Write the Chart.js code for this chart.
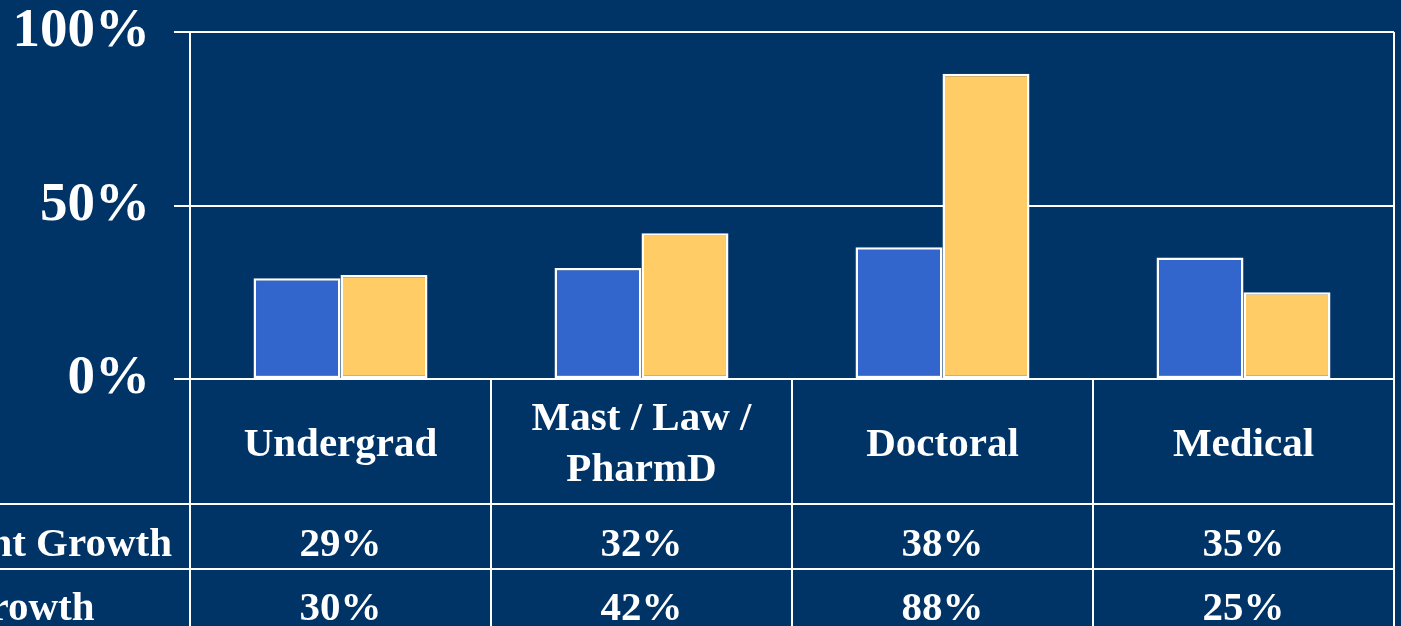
<!DOCTYPE html>
<html>
<head>
<meta charset="utf-8">
<script src="https://cdn.jsdelivr.net/npm/chart.js@4.4.1/dist/chart.umd.min.js"></script>
<style>
  html, body { margin: 0; padding: 0; background: #003366; }
  #wrap { width: 1401px; height: 626px; position: relative; }
</style>
</head>
<body>
<div id="wrap"><canvas id="growthChart"></canvas></div>
<script>
// données
var categories = [['Undergrad'], ['Mast / Law /', 'PharmD'], ['Doctoral'], ['Medical']];
var seriesNames = ['Enrollment Growth', 'Degree Growth'];
var enrollmentGrowth = [29, 32, 38, 35];
var degreeGrowth = [30, 42, 88, 25];
var yTicks = [0, 50, 100];

var navy = '#003366';
var white = '#ffffff';
var fontFamily = "'Liberation Serif', 'Times New Roman', serif";

// tableau de données sous le graphique
var tablePlugin = {
    id: 'dataTable',
    afterDraw: function(chart) {
        var ctx = chart.ctx;
        var area = chart.chartArea;
        var xs = chart.scales.x;
        var H = chart.height;
        var headerH = 125, rowH = 65;
        var colW = (area.right - area.left) / categories.length;

        ctx.save();
        ctx.strokeStyle = white;
        ctx.lineWidth = 2;

        // bord droit de la zone de tracé
        ctx.beginPath();
        ctx.moveTo(area.right, area.top);
        ctx.lineTo(area.right, area.bottom);
        ctx.stroke();

        // lignes horizontales du tableau
        [area.bottom + headerH, area.bottom + headerH + rowH].forEach(function(y) {
            ctx.beginPath();
            ctx.moveTo(0, y);
            ctx.lineTo(area.right, y);
            ctx.stroke();
        });

        // lignes verticales
        for (var i = 0; i <= categories.length; i++) {
            var vx = area.left + i * colW;
            ctx.beginPath();
            ctx.moveTo(vx, area.bottom);
            ctx.lineTo(vx, H);
            ctx.stroke();
        }

        ctx.fillStyle = white;
        ctx.font = 'bold 41px ' + fontFamily;
        ctx.textAlign = 'center';
        ctx.textBaseline = 'middle';

        // en-têtes
        categories.forEach(function(lines, i) {
            var cx = xs.getPixelForValue(i);
            var cy = area.bottom + 66;
            var lh = 51;
            var y0 = cy - (lines.length - 1) * lh / 2;
            lines.forEach(function(t, j) {
                ctx.fillText(t, cx, y0 + j * lh);
            });
        });

        // valeurs
        var rows = [enrollmentGrowth, degreeGrowth];
        var rowY = [area.bottom + headerH + 41, area.bottom + headerH + rowH + 40];
        rows.forEach(function(vals, r) {
            vals.forEach(function(v, i) {
                ctx.fillText(v + '%', xs.getPixelForValue(i), rowY[r]);
            });
        });

        // libellés des lignes (coupés à gauche)
        ctx.textAlign = 'left';
        var startX = 172 - ctx.measureText(seriesNames[0]).width;
        seriesNames.forEach(function(name, r) {
            ctx.fillText(name, startX, rowY[r]);
        });
        ctx.restore();
    }
};

var ctx = document.getElementById('growthChart').getContext('2d');
var growthChart = new Chart(ctx, {
    type: 'bar',
    data: {
        labels: categories.map(function(c) { return c.join(' '); }),
        datasets: [{
            label: seriesNames[0],
            data: enrollmentGrowth,
            backgroundColor: '#3366CC',
            borderColor: white,
            borderWidth: 2.5,
            borderSkipped: false
        }, {
            label: seriesNames[1],
            data: degreeGrowth,
            backgroundColor: '#FFCC66',
            borderColor: white,
            borderWidth: 2.5,
            borderSkipped: false
        }]
    },
    options: {
        responsive: true,
        maintainAspectRatio: false,
        animation: false,
        categoryPercentage: 0.578,
        barPercentage: 1,
        layout: { padding: { left: 0, top: 32, right: 7, bottom: 247 } },
        plugins: {
            legend: { display: false },
            tooltip: { enabled: false }
        },
        scales: {
            x: {
                display: false,
                offset: true
            },
            y: {
                min: yTicks[0],
                max: yTicks[yTicks.length - 1],
                afterFit: function(scale) {
                    scale.width = 190;
                    scale.paddingTop = 0;
                    scale.paddingBottom = 0;
                },
                afterBuildTicks: function(scale) {
                    scale.ticks = yTicks.map(function(v) { return { value: v }; });
                },
                border: { display: true, color: white, width: 2 },
                grid: { color: white, lineWidth: 2, tickLength: 16, drawTicks: true },
                ticks: {
                    color: white,
                    padding: 24,
                    font: { family: fontFamily, size: 55, weight: 'bold' },
                    callback: function(value) { return value + '%'; }
                }
            }
        }
    },
    plugins: [tablePlugin]
});
</script>
</body>
</html>
